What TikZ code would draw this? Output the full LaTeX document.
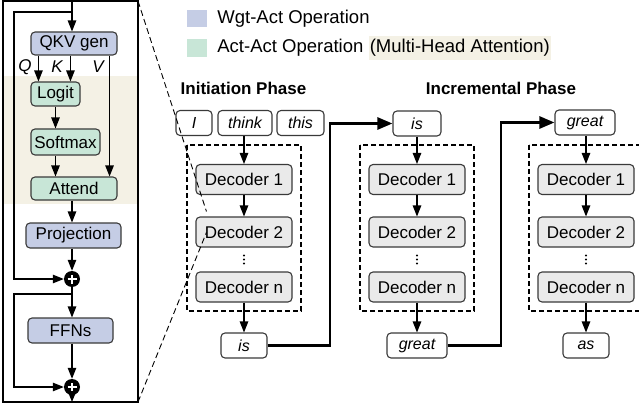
\documentclass[tikz,border=0pt]{standalone}
\usepackage{fontspec}
\setmainfont{Liberation Sans}
\usetikzlibrary{arrows.meta,positioning,calc}
\definecolor{wgtact}{HTML}{C5CDE5}
\definecolor{actact}{HTML}{C8E6D7}
\definecolor{mhabg}{HTML}{F4F1E5}
\definecolor{decgray}{HTML}{EAEAEA}
\definecolor{boxline}{HTML}{3A3A3A}
\newcommand{\fs}[1]{\fontsize{#1}{#1}\selectfont}

\begin{document}
\begin{tikzpicture}[x=1pt,y=-1pt,
  op/.style={draw=boxline,line width=1.1pt,rounded corners=4pt,minimum height=24pt,inner sep=0pt,font=\fs{17}},
  wgt/.style={op,fill=wgtact},
  act/.style={op,fill=actact},
  dec/.style={op,fill=decgray,minimum width=96pt,minimum height=30pt},
  tok/.style={op,fill=white,minimum height=25pt,font=\fs{16}\itshape},
  sumnode/.style={circle,fill=black,minimum size=16pt,inner sep=0pt,
    path picture={\draw[white,line width=1.9pt]
      ([xshift=-4.5pt]path picture bounding box.center) -- ([xshift=4.5pt]path picture bounding box.center)
      ([yshift=-4.5pt]path picture bounding box.center) -- ([yshift=4.5pt]path picture bounding box.center);}},
  arr/.style={line width=1.2pt,-{Triangle[length=11pt,width=8.5pt]}},
  bigarr/.style={line width=2.6pt,-{Triangle[length=15pt,width=12pt]}},
  zoomline/.style={line width=0.9pt,dash pattern=on 6pt off 3.5pt}]
\useasboundingbox (0,0) rectangle (639,414);

% decoder layer (left panel)
\fill[mhabg] (3,76) rectangle (138,204);
\coordinate (panelTL) at (3,1);
\coordinate (panelTR) at (138,1);
\coordinate (panelBR) at (138,402);
\node[wgt,minimum width=86pt,minimum height=23pt] (qkv) at (74,43.5) {QKV gen};
\node[act,minimum width=49pt] (logit) at (55.5,94) {Logit};
\node[act,minimum width=69pt,minimum height=26pt] (softmax) at (65.5,142) {Softmax};
\node[act,minimum width=86pt,minimum height=23pt] (attend) at (74,188.5) {Attend};
\node[wgt,minimum width=95pt,minimum height=25pt] (proj) at (73.5,235.5) {Projection};
\node[sumnode] (add1) at (72,279) {};
\node[wgt,minimum width=85pt,minimum height=25pt] (ffn) at (70.5,330.5) {FFNs};
\node[sumnode] (add2) at (72,387) {};
\foreach \name/\txt/\x in {lq/Q/25,lk/K/57,lv/V/98}
  \node[font=\fs{17}\itshape,inner sep=0pt] (\name) at (\x,67) {\txt};

\coordinate (in) at (72,1);
\coordinate (res1) at (72,12);
\coordinate (res2) at (72,294);
\coordinate (out) at (72,402);
\draw[arr] (in) -- (in |- qkv.north);
\draw[arr] ($(qkv.south west)+(8,0)$) -- ($(logit.north west)+(8,0)$);
\draw[arr] ($(qkv.south west)+(40,0)$) -- ($(logit.north west)+(40,0)$);
\draw[arr] ($(qkv.south east)+(-8,0)$) -- ($(attend.north east)+(-8,0)$);
\draw[arr] (logit.south) -- (softmax.north -| logit.south);
\draw[arr] (softmax.south -| logit.south) -- (attend.north -| logit.south);
\draw[arr] (attend.south -| add1) -- (proj.north -| add1);
\draw[arr] (proj.south -| add1) -- (add1.north);
\draw[arr] (add1.south) -- (ffn.north -| add1);
\draw[arr] (ffn.south -| add2) -- (add2.north);
\draw[arr] (add2.south) -- (out);
\draw[arr] (res1) -- (14,12) |- (add1.west);
\draw[arr] (res2) -- (14,294) |- (add2.west);
\draw[line width=2.4pt] (panelTL) rectangle (panelBR);

% legend
\node[fill=wgtact,minimum width=20pt,minimum height=17pt,inner sep=0pt] (lgwgt) at (197,18.5) {};
\node[right=9pt of lgwgt,inner sep=1pt,font=\fs{18.5}] (lgwgttxt) {Wgt-Act Operation};
\node[fill=actact,minimum width=20pt,minimum height=18pt,inner sep=0pt] (lgact) at (197,48) {};
\node[right=9pt of lgact,inner sep=1pt,font=\fs{18.5}] (lgacttxt) {Act-Act Operation};
\node[right=4pt of lgacttxt,fill=mhabg,inner xsep=1pt,minimum height=22pt,font=\fs{18.5}] (lgmha) {(Multi-Head Attention)};

\node[font=\fs{17}\bfseries] (phase1) at (243.5,88) {Initiation Phase};
\node[font=\fs{17}\bfseries] (phase2) at (501,88) {Incremental Phase};

% decoder stacks
\foreach \c/\x in {1/244,2/417,3/586} {
  \draw[line width=1.1pt,dash pattern=on 5pt off 3pt] (\x-57,145) rectangle (\x+57,311);
  \node[dec] (c\c-d1) at (\x,179.5) {Decoder 1};
  \node[dec] (c\c-d2) at (\x,232) {Decoder 2};
  \node[dec] (c\c-dn) at (\x,287) {Decoder n};
  \draw[arr] (c\c-d1) -- (c\c-d2);
  \foreach \dy in {-4,0,4}
    \fill ($(c\c-d2.south)!.5!(c\c-dn.north)+(0,\dy)$) circle (1.1pt);
}

% tokens
\node[tok,minimum width=36pt] (tI) at (194,123) {I};
\node[tok,minimum width=54pt] (tthink) at (245,123) {think};
\node[tok,minimum width=47pt] (tthis) at (300.5,123) {this};
\node[tok,minimum width=46pt] (o1) at (244,345.5) {is};
\node[tok,minimum width=48pt] (in2) at (417,123.5) {is};
\node[tok,minimum width=60pt] (o2) at (417,345.5) {great};
\node[tok,minimum width=60pt] (in3) at (585,122.5) {great};
\node[tok,minimum width=46pt] (o3) at (586,345.5) {as};

\draw[arr] (tthink.south -| c1-d1) -- (c1-d1.north);
\draw[arr] (c1-dn) -- (o1);
\draw[arr] (in2) -- (c2-d1);
\draw[arr] (c2-dn) -- (o2);
\draw[arr] (in3.south -| c3-d1) -- (c3-d1.north);
\draw[arr] (c3-dn) -- (o3);
\draw[bigarr] (o1.east) -| ($(o1.east)!.5!(in2.west)$) |- (in2.west);
\draw[bigarr] (o2.east) -| ($(o2.east)!.5!(in3.west)$) |- (in3.west);

% zoom lines
\draw[zoomline] (panelTR) -- ($(c1-d2.north west)+(11,-5)$);
\draw[zoomline] (panelBR) -- ($(c1-d2.north west)+(11,16)$);
\end{tikzpicture}
\end{document}
